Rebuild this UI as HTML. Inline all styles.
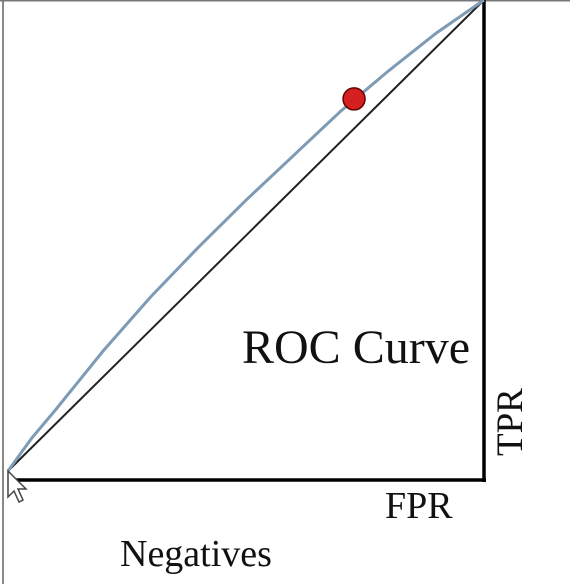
<!DOCTYPE html>
<html><head><meta charset="utf-8"><style>
html,body{margin:0;padding:0;background:#fff;width:570px;height:584px;overflow:hidden}
svg{display:block}
text{font-family:"Liberation Serif",serif;fill:#111}
</style></head><body>
<svg id="chart" width="570" height="584" viewBox="0 0 570 584">
<line x1="3" y1="0" x2="3" y2="584" stroke="#888" stroke-width="2"/>
<line x1="0" y1="0.5" x2="570" y2="0.5" stroke="#777" stroke-width="2"/>
<line x1="484" y1="0" x2="484" y2="482" stroke="#000" stroke-width="3.5"/>
<line x1="8" y1="480" x2="486" y2="480" stroke="#000" stroke-width="3.5"/>
<g id="plot"></g>
<text x="242" y="363" font-size="48">ROC Curve</text>
<text transform="translate(522,456) rotate(-90)" font-size="37">TPR</text>
<text x="385" y="518" font-size="38">FPR</text>
<text x="120" y="566" font-size="38">Negatives</text>
<path d="M8 471 L8 497 L14 491 L19 502 L23 500 L18 489 L26 489 Z" fill="#fff" stroke="#444" stroke-width="1.5"/>
</svg>
<script>
const fprValues=[0,0.05,0.1,0.2,0.3,0.4,0.5,0.6,0.7,0.8,0.9,1];
const tprValues=[0,0.07,0.13,0.255,0.37,0.475,0.575,0.67,0.765,0.85,0.93,1];
const pointFpr=[0.727];
const pointTpr=[0.79];
const X=v=>8+v*476, Y=v=>471-v*471;
const ns="http://www.w3.org/2000/svg", g=document.getElementById('plot');
const diag=document.createElementNS(ns,'line');


diag.setAttribute('x1',X(0));diag.setAttribute('y1',Y(0));diag.setAttribute('x2',X(1));diag.setAttribute('y2',Y(1));
diag.setAttribute('stroke','#222');diag.setAttribute('stroke-width','2');g.appendChild(diag);
const p=document.createElementNS(ns,'polyline');


p.setAttribute('points',fprValues.map((f,i)=>X(f)+','+Y(tprValues[i])).join(' '));
p.setAttribute('fill','none');p.setAttribute('stroke','#7d9bb5');p.setAttribute('stroke-width','3');g.appendChild(p);
pointFpr.forEach((f,i)=>{const c=document.createElementNS(ns,'circle');


c.setAttribute('cx',X(f));c.setAttribute('cy',Y(pointTpr[i]));c.setAttribute('r','11');
c.setAttribute('fill','#d42020');c.setAttribute('stroke','#600');c.setAttribute('stroke-width','1.5');g.appendChild(c);});
</script>
</body></html>
